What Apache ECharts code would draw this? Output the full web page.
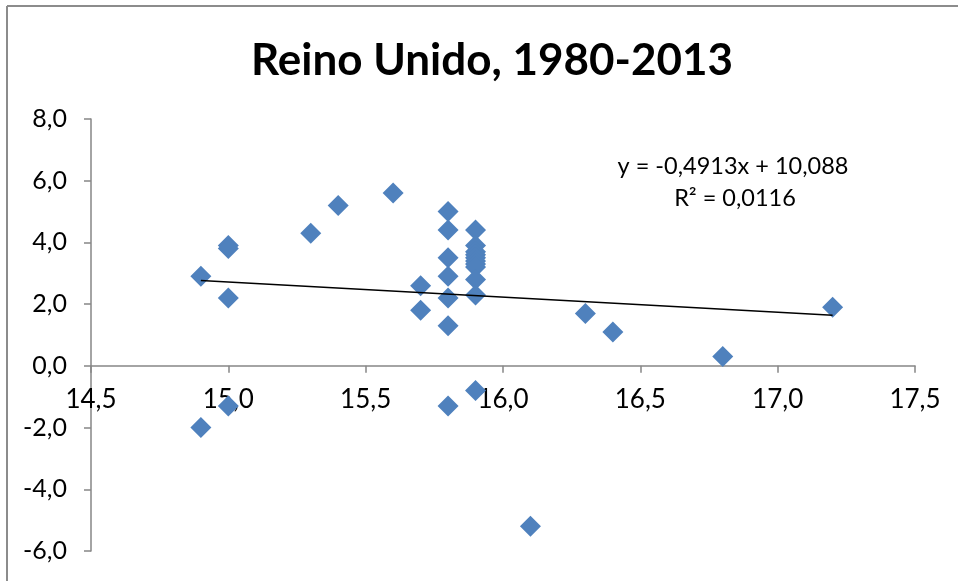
<!DOCTYPE html>
<html style="height: 100%">
<head>
    <meta charset="utf-8">
    <title>Reino Unido, 1980-2013</title>
    <script src="https://cdn.jsdelivr.net/npm/echarts@6/dist/echarts.min.js"></script>
</head>
<body style="height: 100%; margin: 0; background: #fff">
<div id="main" style="width: 958px; height: 581px"></div>
<script type="text/javascript">
    // valores
    var xValues = [14.9, 14.9, 15.0, 15.0, 15.0, 15.0, 15.3, 15.4, 15.6, 15.7, 15.7,
        15.8, 15.8, 15.8, 15.8, 15.8, 15.8, 15.8,
        15.9, 15.9, 15.9, 15.9, 15.9, 15.9, 15.9, 15.9, 15.9, 15.9, 15.9,
        16.1, 16.3, 16.4, 16.8, 17.2];
    var yValues = [2.9, -2.0, 3.9, 3.8, 2.2, -1.3, 4.3, 5.2, 5.6, 2.6, 1.8,
        5.0, 4.4, 3.5, 2.9, 2.2, 1.3, -1.3,
        4.4, 3.9, 3.7, 3.6, 3.5, 3.4, 3.3, 3.2, 2.8, 2.3, -0.8,
        -5.2, 1.7, 1.1, 0.3, 1.9];
    var trendSlope = -0.4913;
    var trendIntercept = 10.088;
    var trendLabel = ['y = -0,4913x + 10,088', 'R² = 0,0116'];

    var points = [];
    for (var i = 0; i < xValues.length; i++) {
        points.push([xValues[i], yValues[i]]);
    }
    var xMin = Math.min.apply(null, xValues);
    var xMax = Math.max.apply(null, xValues);
    var trend = [
        [xMin, trendSlope * xMin + trendIntercept],
        [xMax, trendSlope * xMax + trendIntercept]
    ];

    function comma(v) {
        return v.toFixed(1).replace('.', ',');
    }

    var font = 'Lato, "Liberation Sans", sans-serif';
    var axisGray = '#868686';
    // la escala x cruza el eje y en 0: plot de 119 a 551, cero a 184 px del borde inferior
    var gridTop = 119, gridBottom = 30, yMin = -6, yMax = 8;
    var plotH = 581 - gridTop - gridBottom;
    var zeroOffset = -plotH * (0 - yMin) / (yMax - yMin);

    var myChart = echarts.init(document.getElementById('main'));
    var option = {
        animation: false,
        backgroundColor: '#fff',
        textStyle: { fontFamily: font },
        title: {
            text: 'Reino Unido, 1980-2013',
            left: 487,
            textAlign: 'center',
            top: 34,
            textStyle: { fontSize: 44, fontWeight: 'bold', color: '#000', fontFamily: font }
        },
        grid: { left: 91, right: 43, top: gridTop, bottom: gridBottom, outerBoundsMode: 'none' },
        xAxis: {
            type: 'value',
            min: 14.5, max: 17.5, interval: 0.5,
            position: 'bottom',
            offset: zeroOffset,
            splitLine: { show: false },
            axisLine: { onZero: false, lineStyle: { color: axisGray, width: 1.5 } },
            axisTick: { length: 7, lineStyle: { color: axisGray, width: 1.5 } },
            axisLabel: { margin: 21, fontSize: 26, color: '#000', formatter: comma }
        },
        yAxis: {
            type: 'value',
            min: yMin, max: yMax, interval: 2,
            splitLine: { show: false },
            axisLine: { show: true, onZero: false, lineStyle: { color: axisGray, width: 1.5 } },
            axisTick: { show: true, length: 7, lineStyle: { color: axisGray, width: 1.5 } },
            axisLabel: { margin: 24, fontSize: 25, color: '#000', formatter: comma }
        },
        graphic: [
            { type: 'line', shape: { x1: 7, y1: 6, x2: 958, y2: 6 }, style: { stroke: '#8c8c8c', lineWidth: 2 } },
            { type: 'line', shape: { x1: 7, y1: 6, x2: 7, y2: 581 }, style: { stroke: '#8c8c8c', lineWidth: 2 } },
            { type: 'text', x: 733, y: 154, style: { text: trendLabel[0], fill: '#000', font: '23.5px ' + font, textAlign: 'center' } },
            { type: 'text', x: 735, y: 186, style: { text: trendLabel[1], fill: '#000', font: '23.5px ' + font, textAlign: 'center' } }
        ],
        series: [
            {
                type: 'scatter',
                data: points,
                symbol: 'diamond',
                symbolSize: 21,
                itemStyle: { color: '#4F81BD', opacity: 1 },
                z: 2
            },
            {
                type: 'line',
                data: trend,
                symbol: 'none',
                lineStyle: { color: '#000', width: 1.5 },
                z: 3
            }
        ]
    };
    myChart.setOption(option);
</script>
</body>
</html>
